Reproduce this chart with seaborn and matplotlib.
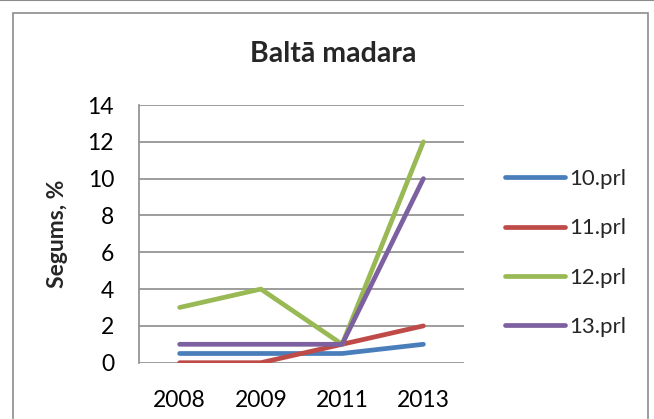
import pandas as pd
import matplotlib.pyplot as plt
import matplotlib.patches as mpatches
import matplotlib.lines as mlines
import seaborn as sns

# Data
years = ['2008', '2009', '2011', '2013']
prl10 = [0.5, 0.5, 0.5, 1]
prl11 = [0, 0, 1, 2]
prl12 = [3, 4, 1, 12]
prl13 = [1, 1, 1, 10]
series_names = ['10.prl', '11.prl', '12.prl', '13.prl']
colors = ['#4A7EBB', '#BE4B48', '#98B954', '#7D60A0']

df = pd.DataFrame({
    'year': years * 4,
    'value': prl10 + prl11 + prl12 + prl13,
    'series': [s for s in series_names for _ in years],
})

sns.set_style('white')
plt.rcParams['font.family'] = ['Lato', 'DejaVu Sans']

fig = plt.figure(figsize=(6.54, 4.19), dpi=100)
ax = fig.add_axes([139 / 654, 1 - 362.7 / 419, (464 - 139) / 654, (362.7 - 105) / 419])

sns.lineplot(data=df, x='year', y='value', hue='series', palette=colors,
             linewidth=3.4, sort=False, ax=ax, legend=False,
             solid_capstyle='round', solid_joinstyle='round')

ax.set_xlim(-0.5, 3.5)
ax.set_ylim(0, 14)
ax.set_yticks(range(0, 15, 2))
ax.yaxis.grid(True, color='#8c8c8c', linewidth=1.2)
ax.xaxis.grid(False)
for side in ['top', 'right', 'bottom']:
    ax.spines[side].set_visible(False)
ax.spines['left'].set_color('#8c8c8c')
ax.spines['left'].set_linewidth(1.2)
ax.tick_params(axis='both', length=0, labelsize=16.5, colors='black')
ax.tick_params(axis='y', pad=18)
ax.tick_params(axis='x', pad=20)
ax.set_xlabel('')
ax.set_ylabel('Segums, %', fontsize=16.5, fontweight='bold', labelpad=14)

fig.text(333 / 654, 1 - 54 / 419, 'Baltā madara', ha='center', va='center',
         fontsize=20.5, fontweight='bold')

handles = [mlines.Line2D([], [], color=c, linewidth=3.4, solid_capstyle='round')
           for c in colors]
fig.legend(handles, series_names, loc='center left',
           bbox_to_anchor=(505 / 654, 1 - 253 / 419), frameon=False,
           fontsize=16, handlelength=2.7, handletextpad=0.2,
           labelspacing=1.32, borderpad=0, borderaxespad=0)

# Outer chart border and top line
fig.patches.append(mpatches.Rectangle((13 / 654, -0.05), (648 - 13) / 654, 1.05 - 13 / 419,
                                      transform=fig.transFigure, fill=False,
                                      edgecolor='#8c8c8c', linewidth=1.2))
fig.lines.append(mlines.Line2D([0, 1], [0.999, 0.999], transform=fig.transFigure,
                               color='#8c8c8c', linewidth=1.5))

plt.savefig('out.png', dpi=100)
